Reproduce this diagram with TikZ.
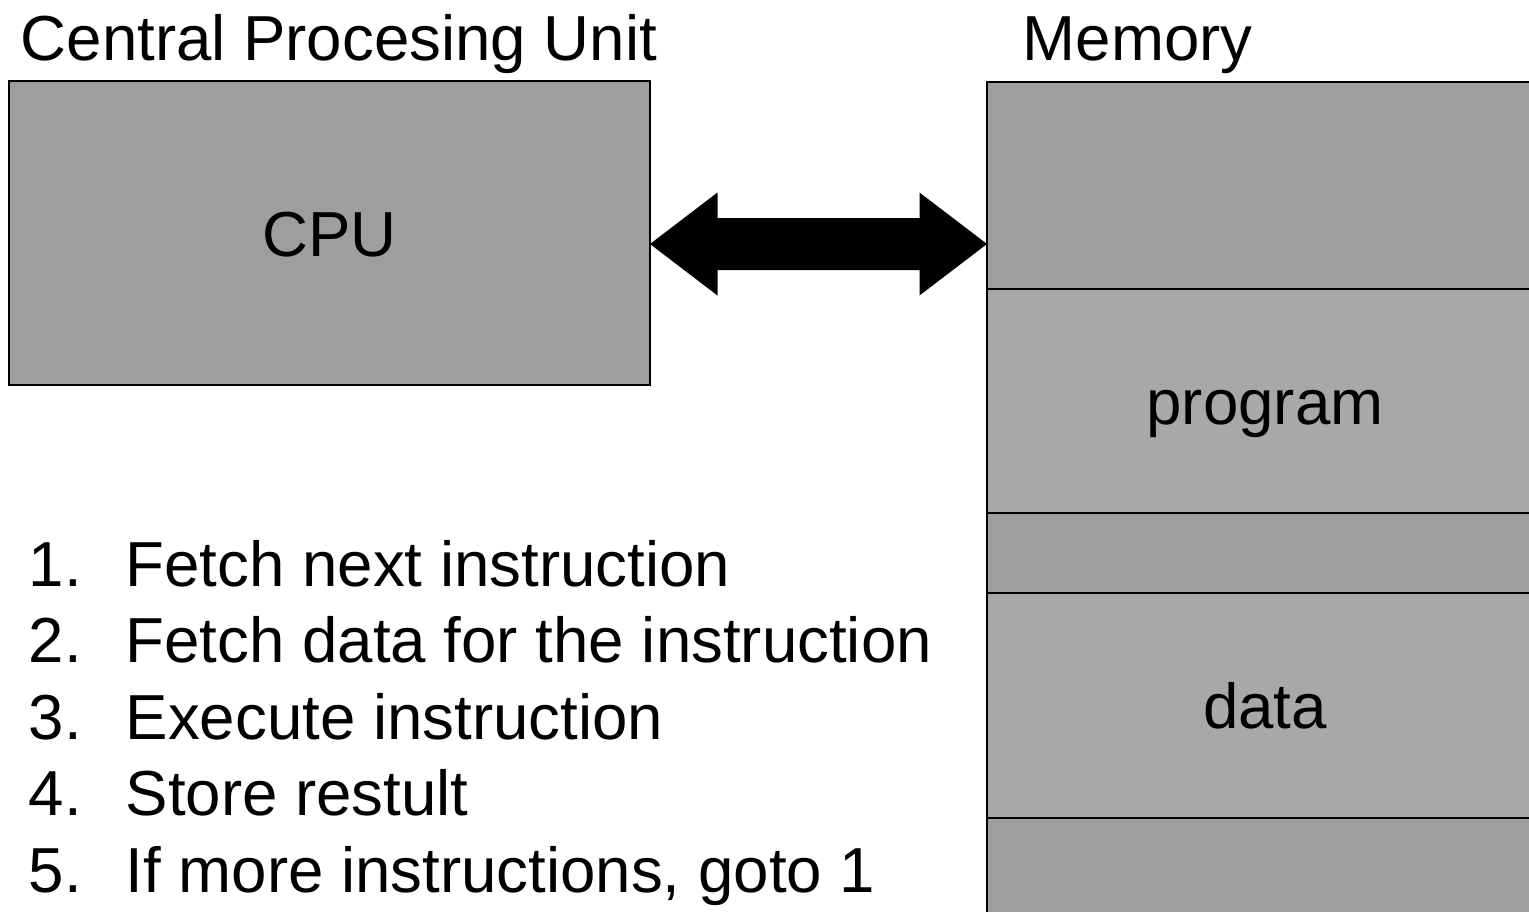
\documentclass[tikz,border=0pt]{standalone}
\usepackage{fontspec}
\setmainfont{Liberation Sans}
\usetikzlibrary{calc,positioning}
\definecolor{boxgray}{HTML}{9E9E9E}
\definecolor{seggray}{HTML}{A8A8A8}

\begin{document}
\begin{tikzpicture}[
	unit/.style={draw=black, line width=0.6pt, fill=boxgray, inner sep=0pt, outer sep=0pt, text height=0.52cm, text depth=0.06cm},
	memseg/.style={unit, minimum width=5.56cm},
	heading/.style={anchor=base west, inner sep=0pt},
	font=\fontsize{18.1}{21.7}\selectfont
]
	%%%%% START %%%%%
	\useasboundingbox (0,0) rectangle (15.29,9.11);
	\clip (0,0) rectangle (15.29,9.11);

	\node[heading] (cputitle) at (0.20,8.51) {Central Procesing Unit};
	\node[heading] (memtitle) at (10.22,8.51) {Memory};

	\node[unit, minimum width=6.41cm, minimum height=3.04cm] (cpu) at (3.295,6.78) {CPU};

	\node[memseg, minimum height=2.07cm, anchor=north] (mem1) at (12.65,8.29) {};
	\node[memseg, minimum height=2.24cm, fill=seggray, below=0pt of mem1] (prog) {program};
	\node[memseg, minimum height=0.80cm, below=0pt of prog] (mem2) {};
	\node[memseg, minimum height=2.25cm, fill=seggray, below=0pt of mem2] (data) {data};
	\node[memseg, minimum height=2.00cm, below=0pt of data] (mem3) {};

	% bus between cpu and memory
	\coordinate (busL) at ([yshift=-0.11cm]cpu.east);
	\coordinate (busR) at (busL -| mem1.west);
	\fill (busL) -- ++(0.675,0.515) -- ++(0,-0.255) -- ($(busR)+(-0.675,0.26)$) -- ++(0,0.255)
		-- (busR) -- ++(-0.675,-0.515) -- ++(0,0.255) -- ($(busL)+(0.675,-0.26)$) -- ++(0,-0.255) -- cycle;

	% the cycle
	\foreach \n/\txt in {1/Fetch next instruction, 2/Fetch data for the instruction,
		3/Execute instruction, 4/Store restult, 5/{If more instructions, goto 1}}{
		\node[heading] (num\n) at (0.28,{3.25-(\n-1)*0.765}) {\n.};
		\node[heading] (item\n) at ([xshift=0.97cm]num\n.base west) {\txt};
	}
	%%%%% END %%%%%
\end{tikzpicture}
\end{document}
